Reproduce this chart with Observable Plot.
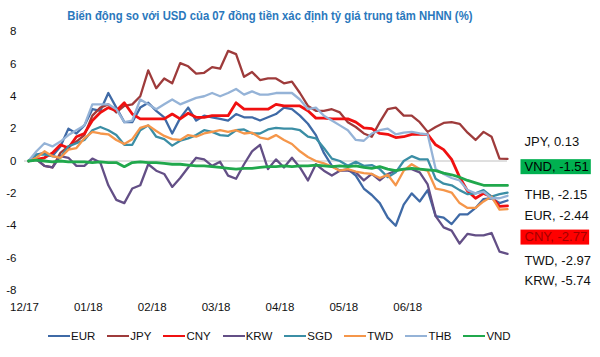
<!DOCTYPE html>
<html><head><meta charset="utf-8">
<script src="https://cdn.jsdelivr.net/npm/d3@7"></script>
<script src="https://cdn.jsdelivr.net/npm/@observablehq/plot@0.6"></script>
<style>
body{margin:0;background:#fff;font-family:"Liberation Sans",Arial,sans-serif;}
#wrap{position:relative;width:600px;height:357px;overflow:hidden;background:#fff;}
#title{position:absolute;top:8px;left:0;width:540px;text-align:center;font-weight:bold;font-size:13px;color:#2a78bd;white-space:nowrap;}
#title span{display:inline-block;transform:scaleX(0.87);transform-origin:center;}
#chart{position:absolute;top:24px;left:0;}
#legend{position:absolute;top:330px;left:48px;display:flex;align-items:center;font-size:11.5px;color:#111;}
.item{display:flex;align-items:center;margin-right:12px;}
.sw{width:22px;height:2.5px;margin-right:1px;}
</style></head><body>
<div id="wrap">
<div id="title"><span>Biến động so với USD của 07 đồng tiền xác định tỷ giá trung tâm NHNN (%)</span></div>
<div id="chart"></div>
<div id="legend"></div>
</div>
<script>
const currencies = ["EUR","JPY","CNY","KRW","SGD","TWD","THB","VND"];
const colors = ["#3f6aa6","#9e3b3b","#f01010","#634f86","#3b8ea5","#f5964a","#95b3d7","#20a84c"];
const tickLabels = ["12/17","01/18","02/18","03/18","04/18","05/18","06/18"];
const tickPos = [-0.5, 7.5, 15.5, 23.5, 31.5, 39.5, 47.5];
const yTicks = [-8,-6,-4,-2,0,2,4,6,8];

const EUR = [0,0.4,0.5,0.3,0.9,2.0,1.7,2.2,3.2,3.1,4.2,3.3,2.4,2.4,3.3,3.6,3.1,2.7,1.7,2.65,3.3,2.5,2.8,2.7,2.6,2.5,2.9,2.7,2.7,2.5,2.7,2.9,3.3,3.2,2.8,2.3,1.6,0.5,-0.3,-0.6,-0.5,-0.9,-1.7,-2.1,-2.6,-3.5,-4.0,-2.7,-2.0,-2.5,-1.8,-3.4,-3.5,-3.9,-3.3,-3.3,-2.9,-2.35,-2.3,-2.6,-2.44];
const JPY = [0,0.1,-0.3,-0.4,0.5,0.9,1.2,1.6,2.8,3.3,3.5,3.0,3.4,3.5,4.0,5.6,4.5,5.1,4.8,6.05,5.85,5.4,5.45,5.8,5.7,6.8,6.6,5.2,5.5,5.0,5.1,5.1,4.8,4.9,4.2,3.4,3.1,3.1,3.2,3.0,2.4,2.1,1.7,1.5,2.4,3.2,3.3,2.8,2.8,2.4,1.8,2.1,2.35,2.4,2.3,1.75,1.3,1.8,1.5,0.15,0.13];
const CNY = [0,0.1,0.2,0.5,1.0,0.8,1.5,1.7,2.5,3.0,3.3,3.1,3.6,2.9,2.6,2.6,2.6,2.6,2.9,2.6,2.95,2.7,2.7,2.8,2.8,2.8,3.6,3.2,3.2,3.2,3.2,3.5,3.4,3.4,3.4,3.1,2.65,2.65,2.6,2.6,2.6,2.4,2.05,2.0,1.7,1.65,1.45,1.5,1.65,1.65,1.65,1.0,0.7,0.1,-1.0,-1.85,-2.3,-2.0,-2.2,-2.8,-2.77];
const KRW = [0,0.1,-0.3,-0.4,0.3,0.2,-0.3,-0.3,0.15,-0.1,-1.5,-2.4,-2.6,-1.7,-1.5,-0.2,-0.6,-0.8,-1.6,-1.05,-0.4,0.2,0.1,-0.3,-0.05,-0.9,-1.1,-0.2,0.6,1.0,-0.5,0.1,-0.4,0.2,-0.4,-1.2,-0.2,-0.6,-0.9,-0.6,-0.6,-0.7,-1.2,-0.8,-1.2,-0.8,-0.6,-0.5,-0.5,-0.7,-1.45,-3.4,-4.1,-4.3,-5.1,-4.5,-4.6,-4.6,-4.45,-5.6,-5.74];
const SGD = [0,0.4,0.4,0.3,0.2,0.9,1.1,1.3,1.9,2.1,1.9,1.6,1.0,1.0,1.9,2.2,1.5,1.35,0.95,1.25,1.4,1.6,1.9,1.8,1.6,1.55,1.9,1.95,1.7,1.7,1.95,2.05,2.0,2.0,1.9,1.5,1.4,0.8,0.15,0.0,-0.3,-0.05,-0.3,-0.25,-0.5,-1.0,-0.7,0.0,0.3,0.1,0.1,-1.1,-1.4,-1.5,-1.8,-2.05,-2.0,-1.8,-2.2,-2.05,-1.95];
const TWD = [0,0.2,0.6,0.3,0.2,0.7,0.8,1.4,1.8,1.7,1.65,1.3,1.05,1.35,2.05,2.2,1.85,1.55,1.35,1.3,1.6,1.5,1.7,1.8,1.9,1.8,1.9,1.7,1.75,1.45,1.35,1.6,1.3,1.05,0.6,0.25,0.0,-0.15,-0.35,-0.6,-0.5,-0.65,-0.75,-0.8,-1.05,-0.85,-1.5,-0.6,-0.2,-0.5,-0.6,-1.7,-1.8,-1.95,-2.6,-2.9,-2.9,-2.5,-2.2,-3.0,-2.97];
const THB = [0,0.6,1.1,0.9,1.2,1.6,1.9,2.2,3.5,3.5,3.5,3.2,2.4,2.5,3.8,3.5,3.2,3.5,3.8,3.5,3.7,3.9,4.0,4.2,4.0,4.2,4.45,4.1,4.3,4.1,4.1,4.2,4.2,4.2,3.8,3.2,3.3,2.8,2.5,2.2,1.9,1.3,1.25,1.7,1.9,2.0,1.65,1.75,1.8,1.7,1.65,-0.5,-0.8,-1.05,-1.2,-1.8,-2.0,-1.9,-2.3,-2.3,-2.15];
const VND = [0,0.05,0.0,-0.05,0,-0.05,-0.05,-0.05,-0.1,-0.05,-0.1,-0.1,-0.35,-0.1,-0.05,-0.1,-0.1,-0.15,-0.2,-0.2,-0.25,-0.3,-0.3,-0.35,-0.4,-0.45,-0.5,-0.45,-0.45,-0.4,-0.35,-0.35,-0.3,-0.35,-0.3,-0.3,-0.25,-0.3,-0.35,-0.3,-0.35,-0.3,-0.4,-0.45,-0.35,-0.5,-0.6,-0.5,-0.45,-0.5,-0.55,-0.6,-0.75,-0.85,-1.0,-1.2,-1.35,-1.5,-1.5,-1.5,-1.51];
const seriesValues = [EUR,JPY,CNY,KRW,SGD,TWD,THB,VND];

// end labels (order top to bottom) and their vertical layout slots (in value units)
const labelNames = ["JPY","VND","THB","EUR","CNY","TWD","KRW"];
const labelSlots = [1.2,-0.34,-2.07,-3.37,-4.69,-6.15,-7.38];
const labelBoxes = {VND: "#00b050", CNY: "#ff0000"};
const labelInk = {VND: "#000", CNY: "#a30000"};

const rows = [];
currencies.forEach((c, k) => seriesValues[k].forEach((v, i) => rows.push({c, i, v})));
const lastIndex = EUR.length - 1;
const labelRows = labelNames.map((n, j) => {
  const vals = seriesValues[currencies.indexOf(n)];
  return {n, slot: labelSlots[j], text: n + ", " + vals[vals.length - 1].toFixed(2)};
});

const widths = {CNY: 2.8, VND: 2.8};
const plot = Plot.plot({
  width: 600, height: 296,
  marginTop: 7, marginBottom: 30, marginLeft: 24, marginRight: 93,
  style: {fontFamily: "Liberation Sans, Arial, sans-serif", fontSize: "11.5px", color: "#111", background: "white", overflow: "visible"},
  x: {domain: [-0.5, lastIndex], axis: null, label: null},
  y: {domain: [-8, 8], axis: null, label: null},
  marks: [
    Plot.axisX({ticks: tickPos, tickFormat: d => tickLabels[tickPos.indexOf(d)], tickSize: 0, tickPadding: 12, label: null}),
    Plot.axisY({ticks: yTicks, tickFormat: d => String(d), tickSize: 0, tickPadding: 8, label: null}),
    Plot.ruleY([0], {stroke: "#c0c0c0", strokeWidth: 1}),
    ...currencies.map((c, k) => Plot.line(rows.filter(r => r.c === c), {
      x: "i", y: "v", stroke: colors[k], strokeWidth: widths[c] || 2.3, strokeLinejoin: "round"
    })),
    Plot.text(labelRows, {
      x: () => lastIndex, y: "slot", text: "text", dx: 17, textAnchor: "start",
      fontSize: 13, fill: d => labelInk[d.n] || "#111"
    })
  ]
});
document.getElementById("chart").appendChild(plot);

// colored backgrounds behind the boxed end labels
plot.querySelectorAll("text").forEach(t => {
  const key = Object.keys(labelBoxes).find(k => t.textContent.startsWith(k + ","));
  if (!key) return;
  const b = t.getBBox();
  const r = document.createElementNS("http://www.w3.org/2000/svg", "rect");
  const tr = t.getAttribute("transform");
  if (tr) r.setAttribute("transform", tr);
  r.setAttribute("x", b.x - 4);
  r.setAttribute("y", b.y + 0.5);
  r.setAttribute("width", b.width + 6);
  r.setAttribute("height", b.height);
  r.setAttribute("fill", labelBoxes[key]);
  t.parentNode.insertBefore(r, t);
});

// legend
const legend = document.getElementById("legend");
currencies.forEach((c, k) => {
  const it = document.createElement("div");
  it.className = "item";
  it.innerHTML = `<span class="sw" style="background:${colors[k]}"></span><span>${c}</span>`;
  legend.appendChild(it);
});
</script>
</body></html>
